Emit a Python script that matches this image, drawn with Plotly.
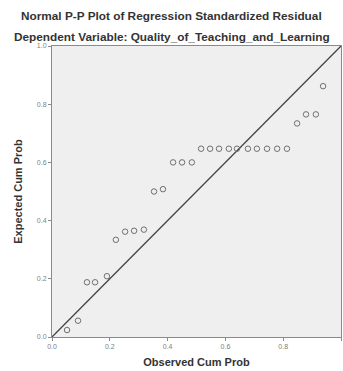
import plotly.graph_objects as go

observed = [0.052, 0.090, 0.121, 0.149, 0.190, 0.221, 0.253, 0.284, 0.318, 0.353,
            0.384, 0.419, 0.450, 0.484, 0.516, 0.547, 0.578, 0.612, 0.640, 0.678,
            0.709, 0.744, 0.779, 0.813, 0.848, 0.879, 0.913, 0.938]
expected = [0.024, 0.056, 0.188, 0.188, 0.209, 0.334, 0.362, 0.365, 0.369, 0.500,
            0.508, 0.600, 0.600, 0.600, 0.647, 0.647, 0.647, 0.647, 0.647, 0.647,
            0.647, 0.647, 0.647, 0.647, 0.734, 0.765, 0.765, 0.862]
ref_line = [0.0, 1.0]
tick_vals = [0.0, 0.2, 0.4, 0.6, 0.8, 1.0]
tick_text = ["0.0", "0.2", "0.4", "0.6", "0.8", "1.0"]

title1 = "Normal P-P Plot of Regression Standardized Residual"
title2 = "Dependent Variable: Quality_of_Teaching_and_Learning"

W, H = 343, 371
ML, MR, MT, MB = 52, 2, 46, 34

fig = go.Figure()
fig.add_trace(go.Scatter(x=ref_line, y=ref_line, mode="lines",
                         line=dict(color="#444444", width=1.3),
                         hoverinfo="skip", showlegend=False))
fig.add_trace(go.Scatter(x=observed, y=expected, mode="markers",
                         marker=dict(symbol="circle-open", size=5.5,
                                     color="#707070", line=dict(width=1)),
                         showlegend=False))

axis_common = dict(range=[0, 1], tickvals=tick_vals, ticktext=tick_text,
                   showgrid=False, zeroline=False, showline=True, mirror=True,
                   linecolor="#8a8a8a", linewidth=1, ticks="outside", ticklen=3,
                   tickcolor="#8a8a8a", automargin=False,
                   tickfont=dict(family="Liberation Sans", size=7, color="#808080"))

plot_h = H - MT - MB
plot_w = W - ML - MR

fig.update_layout(
    width=W, height=H,
    margin=dict(l=ML, r=MR, t=MT, b=MB),
    paper_bgcolor="white", plot_bgcolor="#efefef",
    xaxis=dict(**axis_common, title=dict(text="<b>Observed Cum Prob</b>",
               font=dict(family="Liberation Sans", size=11, color="#333333"), standoff=8)),
    yaxis=dict(**axis_common, title=dict(text="<b>Expected Cum Prob</b>",
               font=dict(family="Liberation Sans", size=11, color="#333333"), standoff=12)),
)
for text, py in [(title1, 16), (title2, 37)]:
    fig.add_annotation(text="<b>" + text + "</b>", xref="paper", yref="paper",
                       x=(W / 2 - ML) / plot_w, y=1 + (MT - py) / plot_h,
                       xanchor="center", yanchor="middle", showarrow=False,
                       font=dict(family="Liberation Sans", size=11.8, color="#333333"))

fig.write_html("out.html", config={"displayModeBar": False},
               post_script="document.body.style.margin='0';document.body.style.overflow='hidden';")
